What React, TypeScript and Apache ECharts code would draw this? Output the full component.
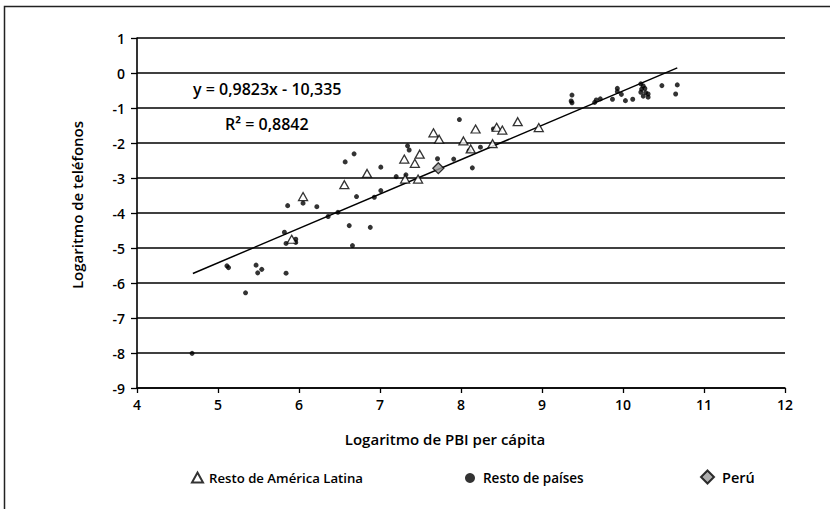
import React, { useEffect, useRef } from "react";
import * as echarts from "echarts";

const FONT = '"Open Sans", "DejaVu Sans", sans-serif';

const latamX = [6.05, 5.91, 6.56, 6.84, 7.30, 7.49, 7.43, 7.31, 7.47, 7.66, 7.73, 8.03, 8.12, 8.39, 8.18, 8.44, 8.51, 8.70, 8.96];
const latamY = [-3.53, -4.75, -3.19, -2.87, -2.46, -2.32, -2.58, -3.03, -3.03, -1.71, -1.89, -1.94, -2.17, -2.02, -1.60, -1.55, -1.63, -1.39, -1.56];

const otherX = [4.68, 5.11, 5.13, 5.34, 5.47, 5.49, 5.54, 5.84, 5.82, 5.84, 5.96, 5.96, 5.86, 6.05, 6.22, 6.36, 6.48, 6.62, 6.88, 6.66, 6.71, 6.93, 7.01, 7.20, 7.32, 7.01, 6.57, 6.68, 7.34, 7.36, 7.71, 7.91, 7.98, 8.14, 8.10, 8.24, 8.40, 9.37, 9.36, 9.37, 9.65, 9.67, 9.72, 9.87, 9.93, 9.93, 9.98, 10.03, 10.12, 10.22, 10.25, 10.23, 10.27, 10.22, 10.28, 10.25, 10.31, 10.31, 10.48, 10.67, 10.65];
const otherY = [-8.01, -5.51, -5.56, -6.28, -5.49, -5.71, -5.61, -5.72, -4.55, -4.87, -4.75, -4.84, -3.79, -3.72, -3.82, -4.10, -3.98, -4.36, -4.41, -4.93, -3.53, -3.55, -3.36, -2.96, -2.91, -2.69, -2.54, -2.31, -2.08, -2.20, -2.45, -2.46, -1.33, -2.71, -2.22, -2.12, -1.60, -0.63, -0.80, -0.85, -0.84, -0.77, -0.74, -0.75, -0.44, -0.53, -0.61, -0.79, -0.75, -0.31, -0.37, -0.46, -0.44, -0.55, -0.56, -0.66, -0.60, -0.69, -0.36, -0.34, -0.60];

const peruX = [7.72];
const peruY = [-2.72];

const trendSlope = 0.9823;
const trendIntercept = -10.335;
const trendX = [4.69, 10.67];

const seriesNames = ["Resto de América Latina", "Resto de países", "Perú"];
const equationText = "y = 0,9823x - 10,335";
const r2Text = "R² = 0,8842";
const xAxisTitle = "Logaritmo de PBI per cápita";
const yAxisTitle = "Logaritmo de teléfonos";

const zip = (xs: number[], ys: number[]) => xs.map((x, i) => [x, ys[i]]);

export default function App() {
  const ref = useRef<HTMLDivElement>(null);
  useEffect(() => {
    if (!ref.current) return;
    const chart = echarts.init(ref.current, undefined, { renderer: "svg" });
    const txt = { color: "#000", fontFamily: FONT, fontSize: 14, fontWeight: 600 };
    const font15 = `600 15px ${FONT}`;
    const font16 = `600 16px ${FONT}`;
    chart.setOption({
      animation: false,
      backgroundColor: "#fff",
      grid: { left: 137, right: 45, top: 38, bottom: 121, containLabel: false },
      xAxis: {
        type: "value",
        min: 4,
        max: 12,
        interval: 1,
        axisLine: { show: true, onZero: false, lineStyle: { color: "#000", width: 1.6 } },
        axisTick: { show: true, length: 5, lineStyle: { color: "#000", width: 1.3 } },
        axisLabel: { ...txt, margin: 9 },
        splitLine: { show: false },
      },
      yAxis: {
        type: "value",
        min: -9,
        max: 1,
        interval: 1,
        axisLine: { show: true, onZero: false, lineStyle: { color: "#000", width: 1.6 } },
        axisTick: { show: true, length: 6, lineStyle: { color: "#000", width: 1.3 } },
        axisLabel: { ...txt, margin: 12 },
        splitLine: { show: true, lineStyle: { color: "#000", width: 1.5 } },
      },
      legend: [
        {
          data: [seriesNames[0]],
          left: 191,
          top: 471,
          padding: 0,
          itemWidth: 11,
          itemHeight: 10,
          textStyle: { ...txt, fontSize: 13.2, padding: [0, 0, 0, 1] },
        },
        {
          data: [seriesNames[1]],
          left: 465,
          top: 471,
          padding: 0,
          itemWidth: 10,
          itemHeight: 10,
          textStyle: { ...txt, fontSize: 13.5, padding: [0, 0, 0, 3] },
        },
        {
          data: [seriesNames[2]],
          left: 700,
          top: 469.5,
          padding: 0,
          itemWidth: 13,
          itemHeight: 13,
          textStyle: { ...txt, fontSize: 14.5, padding: [0, 0, 0, 3] },
        },
      ],
      graphic: [
        {
          type: "polyline",
          shape: { points: [[4.5, 509], [4.5, 6.5], [830, 6.5]] },
          style: { stroke: "#222", lineWidth: 1.5, fill: "none" },
          silent: true,
        },
        {
          type: "text",
          x: 193,
          y: 89,
          style: { text: equationText, fill: "#000", font: font16, verticalAlign: "middle", align: "left" },
        },
        {
          type: "text",
          x: 225,
          y: 124,
          style: { text: r2Text, fill: "#000", font: font16, verticalAlign: "middle", align: "left" },
        },
        {
          type: "text",
          x: 445,
          y: 439,
          style: { text: xAxisTitle, fill: "#000", font: font15, verticalAlign: "middle", align: "center" },
        },
        {
          type: "text",
          x: 77,
          y: 205,
          rotation: Math.PI / 2,
          style: { text: yAxisTitle, fill: "#000", font: font15, verticalAlign: "middle", align: "center" },
        },
      ],
      series: [
        {
          name: seriesNames[0],
          type: "scatter",
          symbol: "triangle",
          symbolSize: [9, 8],
          itemStyle: { color: "#fff", borderColor: "#000", borderWidth: 1.3 },
          data: zip(latamX, latamY),
          z: 4,
        },
        {
          name: seriesNames[1],
          type: "scatter",
          symbol: "circle",
          symbolSize: 5,
          itemStyle: { color: "#000" },
          data: zip(otherX, otherY),
          z: 3,
        },
        {
          name: seriesNames[2],
          type: "scatter",
          symbol: "diamond",
          symbolSize: 11,
          itemStyle: { color: "#9a9a9a", borderColor: "#000", borderWidth: 1.3 },
          data: zip(peruX, peruY),
          z: 5,
        },
        {
          name: "Tendencia",
          type: "line",
          data: trendX.map((x) => [x, trendSlope * x + trendIntercept]),
          symbol: "none",
          lineStyle: { color: "#000", width: 1.5 },
          silent: true,
          z: 2,
        },
      ],
    });
    return () => chart.dispose();
  }, []);
  return (
    <div
      ref={ref}
      style={{ position: "fixed", left: 0, top: 0, width: 830, height: 509, background: "#fff" }}
    />
  );
}
